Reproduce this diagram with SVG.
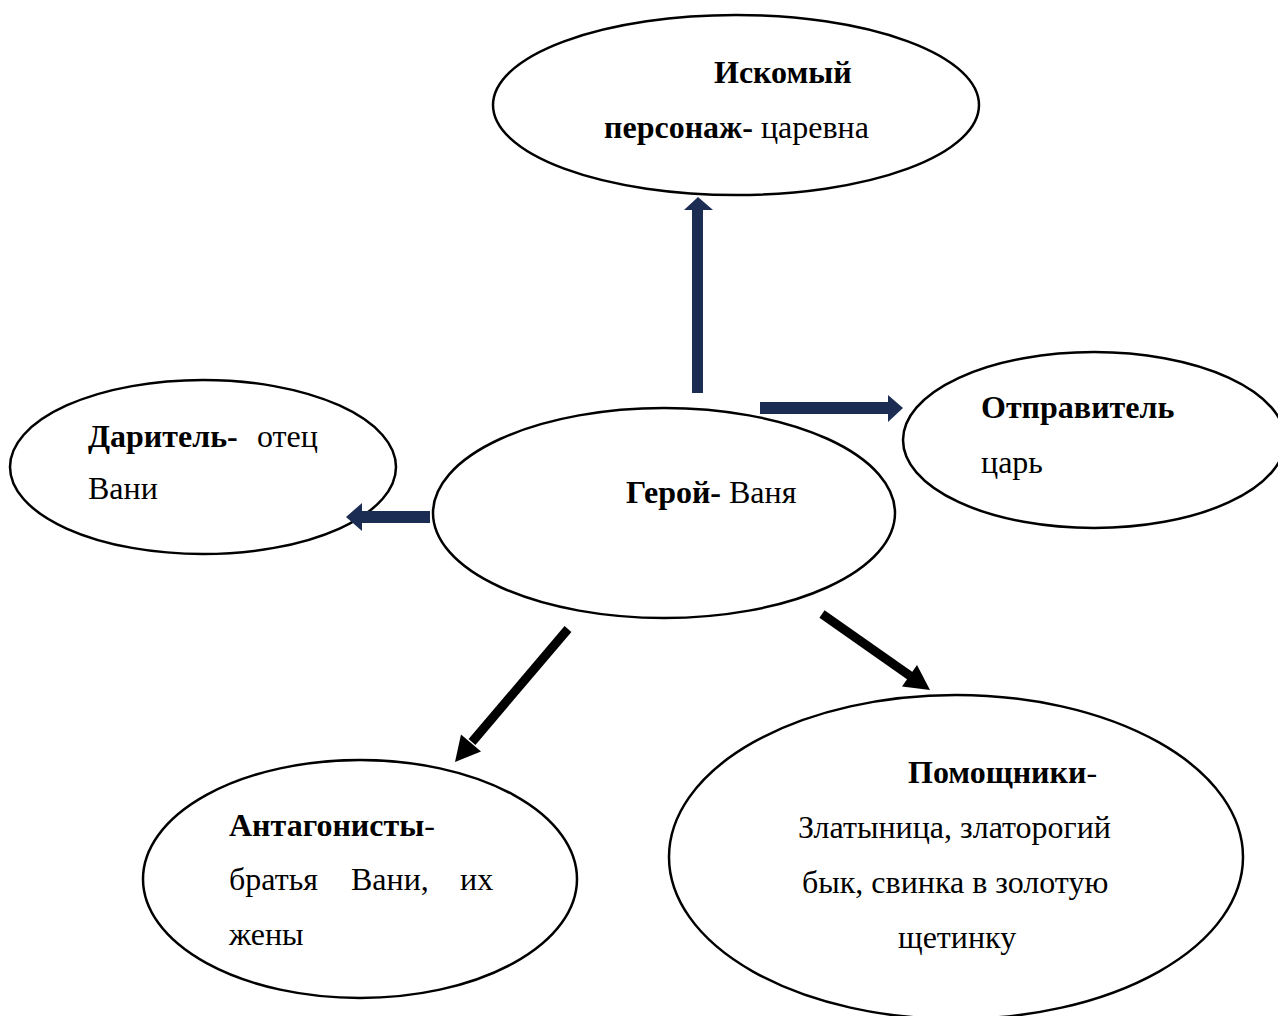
<svg xmlns="http://www.w3.org/2000/svg" width="1278" height="1016" viewBox="0 0 1278 1016">
<style>
.node ellipse{fill:#fff;stroke:#000;stroke-width:2.5}
text{font-family:"Liberation Serif","Times New Roman",serif;font-size:32px;fill:#000}
.b{font-weight:bold}
.nav{fill:#1b2d52}
.blk{fill:#000}
.sh{stroke:#000;stroke-width:9;fill:none}
</style>
<rect width="1278" height="1016" fill="#fff"/>
<g id="node-iskomy" class="node">
<ellipse cx="736" cy="105" rx="243" ry="90"/>
<text x="714" y="83" class="b">Искомый</text>
<text x="604" y="138"><tspan class="b">персонаж-</tspan> царевна</text>
</g>
<g id="node-otpravitel" class="node">
<ellipse cx="1094" cy="440" rx="191" ry="88"/>
<text x="981" y="418" class="b">Отправитель</text>
<text x="981" y="473">царь</text>
</g>
<g id="node-daritel" class="node">
<ellipse cx="203" cy="467" rx="193" ry="87"/>
<text x="88" y="447" class="b">Даритель-</text>
<text x="257" y="447">отец</text>
<text x="88" y="499">Вани</text>
</g>
<g id="node-geroy" class="node">
<ellipse cx="664" cy="513" rx="231" ry="105"/>
<text x="626" y="503"><tspan class="b">Герой-</tspan> Ваня</text>
</g>
<g id="node-antagonisty" class="node">
<ellipse cx="360" cy="879" rx="217" ry="119"/>
<text x="229" y="836"><tspan class="b">Антагонисты</tspan>-</text>
<text x="229" y="890">братья</text>
<text x="351" y="890">Вани,</text>
<text x="460" y="890">их</text>
<text x="229" y="945">жены</text>
</g>
<g id="node-pomoshchniki" class="node">
<ellipse cx="956" cy="857" rx="287" ry="162"/>
<text x="908" y="783"><tspan class="b">Помощники</tspan>-</text>
<text x="798" y="838">Златыница, златорогий</text>
<text x="802" y="893">бык, свинка в золотую</text>
<text x="898" y="948">щетинку</text>
</g>
<g id="connectors">
<rect class="nav" x="692" y="209" width="11" height="184"/>
<polygon class="nav" points="684,210 698,197 713,210"/>
<rect class="nav" x="760" y="402" width="129" height="12"/>
<polygon class="nav" points="888,395 903,408 888,422"/>
<rect class="nav" x="361" y="511" width="69" height="12"/>
<polygon class="nav" points="362,503 346,517 362,531"/>
<line class="sh" x1="568" y1="629" x2="472" y2="742"/>
<polygon class="blk" points="455,762 481,751.5 461,734.5"/>
<line class="sh" x1="822" y1="614" x2="911" y2="676.5"/>
<polygon class="blk" points="930,690 902,686.5 917,665"/>
</g>
</svg>
